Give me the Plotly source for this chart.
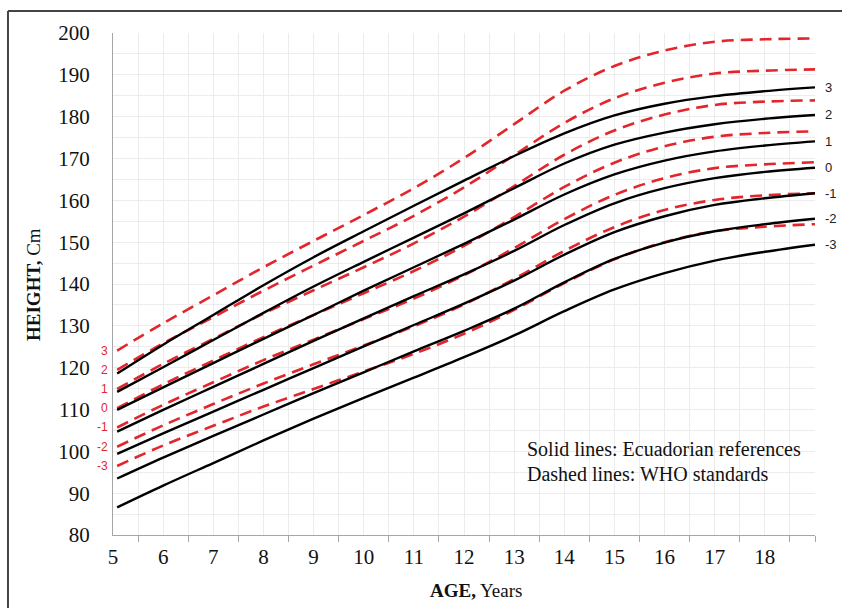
import plotly.graph_objects as go

# ---------------- data ----------------
ages = [5.083, 6, 7, 8, 9, 10, 11, 12, 13, 14, 15, 16, 17, 18, 19]

z_labels = ["3", "2", "1", "0", "-1", "-2", "-3"]

# Ecuadorian references (solid black), z = +3 ... -3
ecu_p3 = [118.6, 125.5, 132.6, 139.7, 146.4, 152.6, 158.7, 164.7, 170.6, 176.0, 180.3, 183.1, 184.9, 186.1, 187.0]
ecu_p2 = [114.2, 120.1, 126.6, 133.1, 139.4, 145.3, 151.1, 156.9, 162.9, 168.8, 173.3, 176.2, 178.2, 179.5, 180.4]
ecu_p1 = [109.9, 115.3, 121.1, 126.9, 132.6, 138.4, 144.0, 149.6, 155.4, 161.4, 166.2, 169.5, 171.7, 173.1, 174.1]
ecu_0 = [104.7, 109.9, 115.4, 120.9, 126.4, 131.8, 137.1, 142.3, 147.9, 154.1, 159.3, 162.9, 165.3, 166.8, 167.8]
ecu_m1 = [99.4, 104.3, 109.5, 114.7, 119.9, 125.1, 130.2, 135.3, 140.8, 147.0, 152.4, 156.2, 158.9, 160.5, 161.7]
ecu_m2 = [93.5, 98.5, 103.7, 108.8, 113.9, 118.9, 123.9, 128.8, 134.1, 140.4, 146.0, 149.9, 152.6, 154.3, 155.6]
ecu_m3 = [86.6, 91.8, 97.2, 102.6, 107.8, 112.8, 117.6, 122.5, 127.7, 133.5, 138.7, 142.6, 145.6, 147.7, 149.4]

# WHO standards (dashed red), z = +3 ... -3
who_p3 = [124.1, 130.6, 137.3, 144.0, 150.3, 156.5, 162.9, 170.1, 178.2, 186.2, 192.1, 195.8, 197.9, 198.5, 198.7]
who_p2 = [119.5, 125.8, 132.1, 138.4, 144.4, 150.3, 156.3, 163.1, 170.8, 178.5, 184.4, 188.1, 190.3, 191.0, 191.3]
who_p1 = [114.9, 120.9, 126.9, 132.9, 138.5, 144.0, 149.7, 156.1, 163.4, 170.9, 176.7, 180.5, 182.8, 183.6, 183.9]
who_0 = [110.3, 116.0, 121.7, 127.3, 132.6, 137.8, 143.1, 149.1, 156.0, 163.2, 169.0, 172.9, 175.2, 176.1, 176.5]
who_m1 = [105.7, 111.1, 116.5, 121.8, 126.7, 131.6, 136.5, 142.1, 148.6, 155.5, 161.3, 165.3, 167.7, 168.6, 169.1]
who_m2 = [101.1, 106.2, 111.3, 116.2, 120.8, 125.3, 129.9, 135.1, 141.2, 147.9, 153.6, 157.7, 160.1, 161.2, 161.7]
who_m3 = [96.5, 101.4, 106.1, 110.7, 114.9, 119.1, 123.3, 128.1, 133.8, 140.2, 145.9, 150.0, 152.6, 153.7, 154.3]

x_tick_vals = list(range(5, 19))
x_minor_vals = [v + 0.5 for v in range(5, 19)] + [19]

ecu_series = [ecu_p3, ecu_p2, ecu_p1, ecu_0, ecu_m1, ecu_m2, ecu_m3]
who_series = [who_p3, who_p2, who_p1, who_0, who_m1, who_m2, who_m3]

RED = "#e3262c"
SERIF = "Liberation Serif, Times New Roman, serif"
SANS = "Liberation Sans, Arial, sans-serif"

fig = go.Figure()

for lab, ys in zip(z_labels, who_series):
    fig.add_trace(go.Scatter(
        x=ages, y=ys, mode="lines", name="WHO " + lab,
        line=dict(color=RED, width=2.6, dash="12px,7px", shape="spline", smoothing=1.0),
        showlegend=False, hoverinfo="skip"))

for lab, ys in zip(z_labels, ecu_series):
    fig.add_trace(go.Scatter(
        x=ages, y=ys, mode="lines", name="Ecuador " + lab,
        line=dict(color="black", width=2.4, shape="spline", smoothing=1.0),
        showlegend=False, hoverinfo="skip"))

annotations = []
# right-hand labels for Ecuadorian lines
for lab, ys in zip(z_labels, ecu_series):
    annotations.append(dict(x=ages[-1], y=ys[-1], xref="x", yref="y", text=lab,
                            showarrow=False, xanchor="left", yanchor="middle", xshift=8,
                            font=dict(family=SANS, size=13, color="#222222")))
# left-hand labels for WHO lines
for lab, ys in zip(z_labels, who_series):
    annotations.append(dict(x=5, y=ys[0], xref="x", yref="y", text=lab,
                            showarrow=False, xanchor="right", yanchor="middle", xshift=-3,
                            font=dict(family=SANS, size=12, color=RED)))

annotations += [
    dict(x=-0.114, y=0.5, xref="paper", yref="paper", text="<b>HEIGHT,</b> Cm",
         textangle=-90, showarrow=False, xanchor="center", yanchor="middle",
         font=dict(family=SERIF, size=19, color="#111111")),
    dict(x=0.517, y=-0.11, xref="paper", yref="paper", text="<b>AGE,</b> Years",
         showarrow=False, xanchor="center", yanchor="middle",
         font=dict(family=SERIF, size=19, color="#111111")),
    dict(x=0.587, y=0.171, xref="paper", yref="paper", text="Solid lines: Ecuadorian references",
         showarrow=False, xanchor="left", yanchor="middle",
         font=dict(family=SERIF, size=20, color="#111111")),
    dict(x=0.587, y=0.1215, xref="paper", yref="paper", text="Dashed lines: WHO standards",
         showarrow=False, xanchor="left", yanchor="middle",
         font=dict(family=SERIF, size=20, color="#111111")),
]

shapes = [
    dict(type="line", xref="paper", yref="paper", x0=-0.1496, x1=-0.1496, y0=1.0438, y1=-0.3,
         line=dict(color="#444444", width=2)),
    dict(type="line", xref="paper", yref="paper", x0=-0.1496, x1=1.2, y0=1.0438, y1=1.0438,
         line=dict(color="#444444", width=2)),
]

fig.update_layout(
    width=842, height=608,
    margin=dict(l=113, r=27, t=33, b=73),
    paper_bgcolor="white", plot_bgcolor="white",
    annotations=annotations, shapes=shapes,
    xaxis=dict(range=[5, 19], tickmode="array", tickvals=x_tick_vals,
               ticks="", showgrid=True, gridcolor="#ececec", gridwidth=1,
               showline=True, linecolor="#a6a6a6", linewidth=1.3, zeroline=False,
               tickfont=dict(family=SERIF, size=21, color="#111111"),
               ticklabelstandoff=3,
               minor=dict(tickmode="array", tickvals=x_minor_vals, ticks="outside",
                          ticklen=6, tickcolor="#a6a6a6", tickwidth=1.2,
                          showgrid=True, gridcolor="#ececec", gridwidth=1)),
    yaxis=dict(range=[80, 200], tickmode="linear", tick0=80, dtick=10,
               ticks="", showgrid=True, gridcolor="#ececec", gridwidth=1,
               showline=True, linecolor="#a6a6a6", linewidth=1.3, zeroline=False,
               tickfont=dict(family=SERIF, size=21, color="#111111"),
               ticklabelstandoff=18,
               minor=dict(dtick=5, tick0=80, showgrid=True, gridcolor="#ececec", gridwidth=1)),
)

fig.write_html("out.html", config={"displayModeBar": False},
               post_script="document.body.style.margin='0px';")
